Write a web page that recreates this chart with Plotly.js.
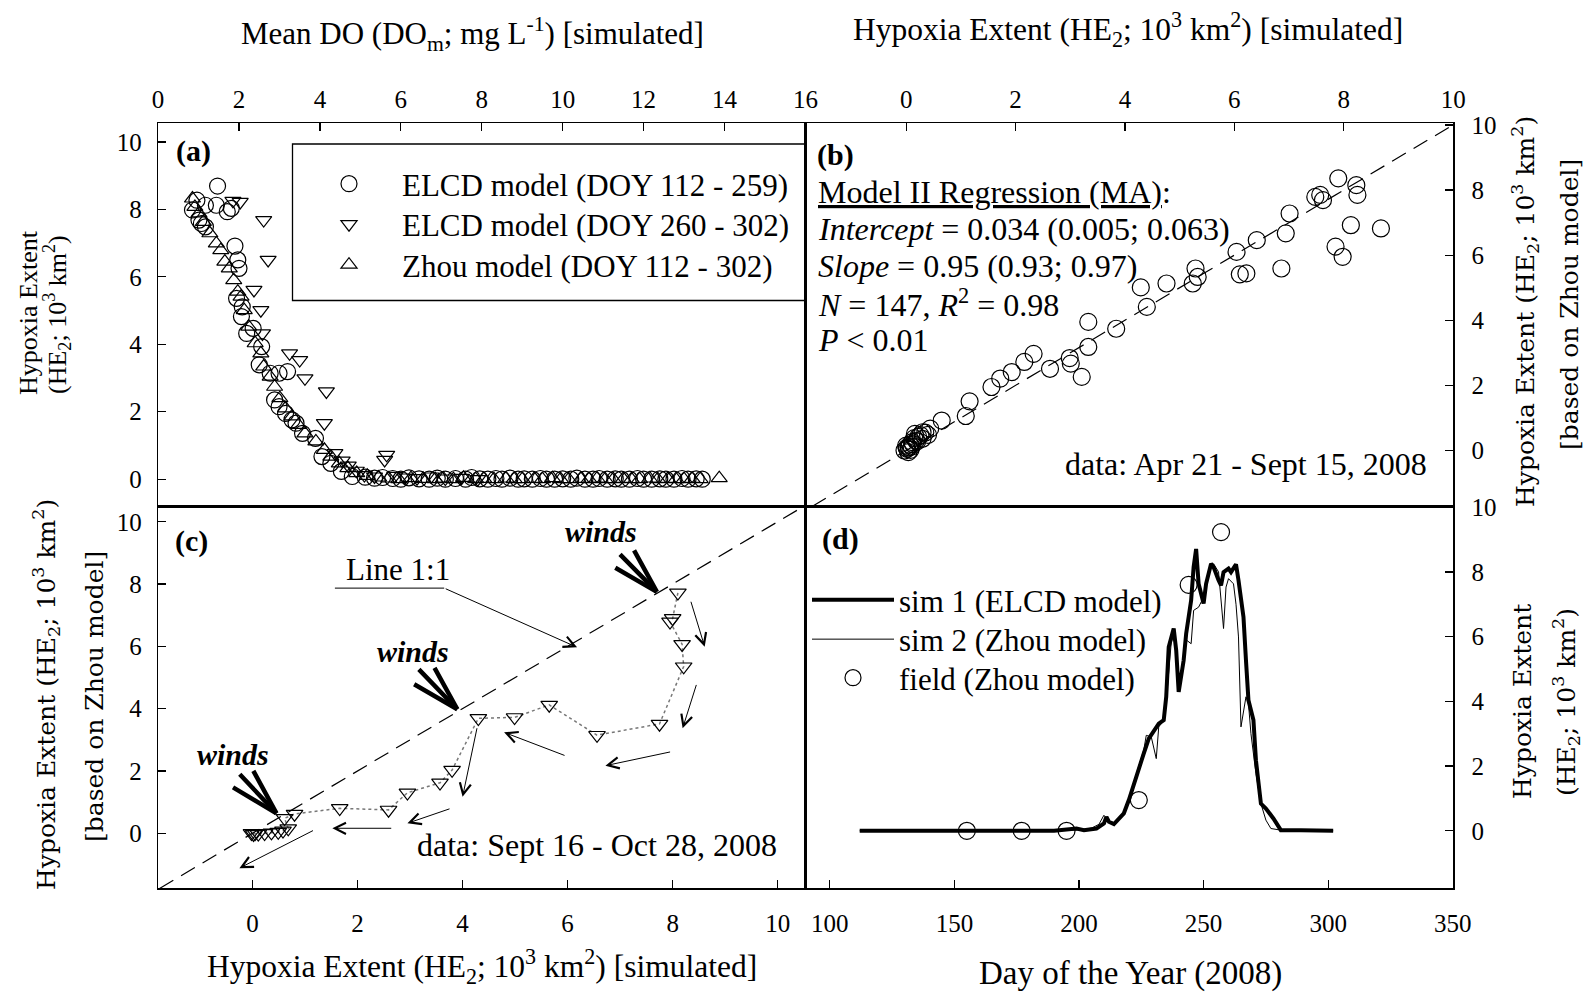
<!DOCTYPE html>
<html><head><meta charset="utf-8">
<script src="https://cdn.plot.ly/plotly-3.0.1.min.js"></script>
<style>html,body{margin:0;padding:0;background:#fff}#chart{width:1591px;height:993px}</style>
</head><body><div id="chart"></div>
<script>
// ---------------- Panel (a): HE vs mean DO ----------------
const elcdEarlyDO = [1.47,0.85,0.96,1.17,1.44,1.71,1.81,1.01,1.07,1.17,1.90,1.97,2.00,1.94,2.08,2.06,2.19,2.35,2.56,2.50,2.77,2.99,3.20,2.88,2.99,3.15,3.31,3.41,3.57,3.89,4.05,4.27,4.53,4.80,5.12,
  5.35,5.55,5.80,6.00,6.20,6.45,6.70,6.90,7.10,7.35,7.60,7.75,7.95,8.15,8.35,8.50,8.70,8.90,9.05,9.25,9.45,9.60,9.80,10.00,10.20,10.35,10.55,10.75,10.90,11.10,11.30,11.45,11.65,11.85,12.00,12.20,12.40,12.55,12.75,12.95,13.10,13.30,13.45];
const elcdEarlyHE = [8.69,7.98,8.27,8.12,8.12,7.93,8.03,7.68,7.58,7.48,6.91,6.50,6.25,5.36,5.11,4.82,4.32,4.47,3.93,3.39,3.14,3.14,3.19,2.35,2.15,1.95,1.76,1.66,1.36,1.21,0.67,0.47,0.23,0.08,0.06,
  0.03,0.05,0.02,0.00,0.04,0.01,0.00,0.03,0.00,0.02,0.00,0.05,0.01,0.00,0.02,0.00,0.03,0.00,0.01,0.00,0.02,0.00,0.00,0.01,0.00,0.03,0.00,0.00,0.02,0.00,0.01,0.00,0.00,0.02,0.00,0.00,0.01,0.00,0.00,0.02,0.00,0.01,0.00];
const elcdLateDO = [1.85,2.03,2.61,2.72,2.37,2.54,2.58,3.25,3.50,3.63,4.16,4.11,4.37,4.55,4.70,4.90,5.10,5.60,5.65,5.35,5.85,6.10,6.40,6.75,7.10,7.50,7.90];
const elcdLateHE = [8.25,8.22,7.68,6.50,5.61,5.01,4.32,3.73,3.53,2.99,2.60,1.66,0.77,0.55,0.40,0.25,0.12,0.57,0.72,0.08,0.10,0.05,0.03,0.08,0.02,0.04,0.00];
const zhouDO = [0.85,0.91,1.01,1.12,1.28,1.44,1.55,1.65,1.76,1.87,1.97,2.05,2.13,2.24,2.40,2.54,2.61,2.77,2.88,3.01,3.15,3.31,3.47,3.63,3.90,4.11,4.27,4.48,4.69,4.91,5.17,
  5.45,5.70,5.95,6.25,6.55,6.85,7.05,7.30,7.55,7.85,8.05,8.30,8.60,8.80,9.00,9.30,9.50,9.75,9.95,10.15,10.45,10.65,10.85,11.05,11.25,11.50,11.70,11.90,12.15,12.35,12.60,12.80,13.00,13.20,13.40,13.87];
const zhouHE = [8.32,8.07,7.88,7.63,7.29,6.99,6.79,6.45,6.25,5.90,5.56,5.41,5.01,4.52,4.03,3.73,3.34,3.04,2.74,2.40,2.10,1.86,1.61,1.36,1.12,0.87,0.67,0.47,0.33,0.18,0.10,
  0.05,0.02,0.00,0.03,0.01,0.00,0.02,0.00,0.04,0.00,0.01,0.00,0.02,0.00,0.00,0.01,0.00,0.03,0.00,0.00,0.01,0.00,0.02,0.00,0.00,0.01,0.00,0.00,0.02,0.00,0.01,0.00,0.00,0.01,0.00,0.03];

// ---------------- Panel (b): Zhou vs ELCD HE (Apr 21 - Sep 15) ----------------
const heSimB = [7.90,8.23,8.25,7.57,7.48,7.62,8.13,8.68,7.01,6.94,7.85,7.98,6.41,6.04,6.10,6.22,6.86,5.29,5.33,5.24,4.29,4.76,4.40,3.33,3.84,3.33,2.99,3.01,3.21,2.63,2.33,2.16,1.93,1.72,1.56,1.16,1.09,0.65,0.44,0.30,0.16,0.30,0.11,0.00,0.02,-0.03,0.05,0.08,0.12,0.18,0.22,0.04,0.01,0.07,0.10,0.15,0.20,0.26,0.35,0.40];
const heZhouB = [8.36,8.15,7.85,7.85,7.79,7.69,6.92,6.82,7.28,6.67,6.26,5.95,6.46,6.10,5.41,5.44,5.59,5.59,5.33,5.13,5.01,5.13,4.41,3.95,3.74,3.18,2.84,2.67,2.26,2.51,2.97,2.72,2.41,2.21,1.95,1.51,1.06,0.92,0.67,0.56,0.51,0.36,0.26,0.15,0.05,0.00,0.10,0.02,0.20,0.30,0.42,-0.05,0.08,0.18,0.12,0.38,0.28,0.47,0.55,0.48];

// ---------------- Panel (c): Zhou vs ELCD HE (Sep 16 - Oct 28) ----------------
const heSimC = [8.10,8.00,7.95,8.18,8.21,7.75,6.56,5.65,4.99,4.30,3.80,3.57,2.95,2.59,1.66,0.80,0.61,0.68,0.58,0.49,0.36,0.23,0.11,-0.02,0.02,0.05];
const heZhouC = [7.72,6.90,6.79,6.07,5.35,3.51,3.15,4.12,3.72,3.69,2.03,1.62,1.30,0.75,0.80,0.62,0.48,0.15,0.08,0.04,0.02,0.00,-0.02,0.00,-0.03,0.00];

// ---------------- Panel (d): time series ----------------
const doySim1 = [112,130,150,170,190,199,202,207,210,211,212,214,216,218,220,222,224,226,228,230,232,234,235,236,238,239,240,242,243,245,246,247,248,250,251,253,254,256,257,258,260,261,263,264,266,267,268,270,271,273,275,278,281,289,295,302];
const heSim1 = [0,0,0,0,0,0.07,0.02,0.07,0.23,0.43,0.28,0.21,0.38,0.54,0.95,1.46,1.98,2.39,2.85,3.11,3.31,3.42,4.14,5.68,6.25,5.58,4.29,5.27,6.09,7.12,8.15,8.71,7.63,7.02,7.63,8.25,8.15,7.74,7.58,7.99,8.10,7.99,8.23,7.74,6.61,5.27,4.03,3.42,2.18,0.84,0.69,0.38,0.02,0.02,0,0];
const doySim2 = [112,130,150,170,190,200,205,208,210,212,214,216,218,220,222,224,226,227,229,231,232,234,235,237,238,239,240,242,243,245,246,248,250,252,254,256,258,259,260,262,263,264,265,267,268,269,271,273,275,277,281,290,302];
const heSim2 = [0,0,0,0,0,0.03,0.08,0.2,0.48,0.3,0.25,0.35,0.5,0.9,1.5,2.0,2.5,2.95,2.9,2.23,3.21,3.4,4.0,5.8,6.1,5.5,4.6,5.2,5.9,5.78,6.81,6.91,7.22,8.05,8.25,8.0,6.25,7.53,7.79,7.63,7.0,5.99,3.21,4.14,3.93,3.0,1.77,0.84,0.33,0.07,0.02,0,0];
const doyField = [155,177,195,224,244,257];
const heField = [0,0,0,0.95,7.6,9.23];

// ---------------- Labels ----------------
const legendA = ['ELCD model (DOY 112 - 259)','ELCD model (DOY 260 - 302)','Zhou model (DOY 112 - 302)'];
const legendD = ['sim 1 (ELCD model)','sim 2 (Zhou model)','field (Zhou model)'];
const HE_UNIT = 'HE<sub>2</sub>; 10<sup>3</sup> km<sup>2</sup>';

const W = 1591, H = 993;
const SERIF = '"Liberation Serif", "Times New Roman", serif';
const WIDE = '"DejaVu Serif", serif';
const px = X => X / W, py = Y => 1 - Y / H;

const xL = [px(158), px(805.5)], xR = [px(805.5), px(1453.3)];
const yT = [py(506.5), py(123.3)], yB = [py(888.4), py(506.5)];

const mk = (sym, size) => ({symbol: sym, size: size, color: '#000', line: {width: 1.2, color: '#000'}});

const traces = [
  {x: elcdEarlyDO, y: elcdEarlyHE, xaxis:'x', yaxis:'y', type:'scatter', mode:'markers', name: legendA[0], legend:'legend', marker: mk('circle-open', 16)},
  {x: elcdLateDO, y: elcdLateHE, xaxis:'x', yaxis:'y', type:'scatter', mode:'markers', name: legendA[1], legend:'legend3', marker: mk('triangle-down-open', 14)},
  {x: zhouDO, y: zhouHE, xaxis:'x', yaxis:'y', type:'scatter', mode:'markers', name: legendA[2], legend:'legend4', marker: mk('triangle-up-open', 14)},
  {x: heSimB, y: heZhouB, xaxis:'x2', yaxis:'y2', type:'scatter', mode:'markers', showlegend:false, marker: mk('circle-open', 17)},
  {x: heSimC, y: heZhouC, xaxis:'x3', yaxis:'y3', type:'scatter', mode:'lines+markers', showlegend:false,
   line: {color:'#777', width:1.5, dash:'dot'}, marker: mk('triangle-down-open', 14.5)},
  {x: doySim1, y: heSim1, xaxis:'x4', yaxis:'y4', type:'scatter', mode:'lines', name: legendD[0], legend:'legend2', line:{color:'#000', width:4}},
  {x: doySim2, y: heSim2, xaxis:'x4', yaxis:'y4', type:'scatter', mode:'lines', name: legendD[1], legend:'legend5', line:{color:'#000', width:1}},
  {x: doyField, y: heField, xaxis:'x4', yaxis:'y4', type:'scatter', mode:'markers', name: legendD[2], legend:'legend6', marker: mk('circle-open', 17)}
];

const axBase = {showline:true, mirror:true, linecolor:'#000', linewidth:1.3, ticks:'inside', ticklen:8, tickwidth:1.3, tickcolor:'#000',
  showgrid:false, zeroline:false, fixedrange:true, tickfont:{family:SERIF, size:25, color:'#000'}};
const ax = o => Object.assign({}, axBase, o);

const ann = [];
function txt(X, Y, text, o) {
  const a = {xref:'paper', yref:'paper', x:px(X), y:py(Y), text:text, showarrow:false, xanchor:'center', yanchor:'middle',
    font:{family:SERIF, size:32, color:'#000'}};
  if (o) { if (o.font) { a.font = Object.assign({}, a.font, o.font); } Object.keys(o).forEach(k => { if (k !== 'font') a[k] = o[k]; }); }
  ann.push(a);
}
function arrow(x0, y0, x1, y1, o) {
  ann.push(Object.assign({xref:'x3', yref:'y3', axref:'x3', ayref:'y3', x:x1, y:y1, ax:x0, ay:y0, text:'', showarrow:true,
    arrowhead:5, arrowsize:2.2, arrowwidth:1, arrowcolor:'#000', standoff:0, startstandoff:0}, o || {}));
}

// axis titles
txt(472, 34, 'Mean DO (DO<sub>m</sub>; mg L<sup>-1</sup>) [simulated]', {font:{size:31}});
txt(1128, 29, 'Hypoxia Extent (' + HE_UNIT + ') [simulated]', {font:{size:31.5}});
txt(482, 966, 'Hypoxia Extent (' + HE_UNIT + ') [simulated]', {font:{size:31.5}});
txt(1130, 973, 'Day of the Year (2008)', {font:{size:33}});
txt(28, 313, 'Hypoxia Extent', {textangle:-90, font:{size:26}});
txt(57, 315, '(' + HE_UNIT + ')', {textangle:-90, font:{size:26}});
txt(46, 695, 'Hypoxia Extent (' + HE_UNIT + ')', {textangle:-90, font:{family:WIDE, size:25}});
txt(94, 697, '[based on Zhou model]', {textangle:-90, font:{family:WIDE, size:25}});
txt(1525, 312, 'Hypoxia Extent (' + HE_UNIT + ')', {textangle:-90, font:{family:WIDE, size:25}});
txt(1569, 305, '[based on Zhou model]', {textangle:-90, font:{family:WIDE, size:25}});
txt(1522, 702, 'Hypoxia Extent', {textangle:-90, font:{family:WIDE, size:25}});
txt(1566, 702, '(' + HE_UNIT + ')', {textangle:-90, font:{family:WIDE, size:25}});

// panel letters
txt(174, 151, '<b>(a)</b>', {xanchor:'left', font:{size:30}});
txt(815, 155, '<b>(b)</b>', {xanchor:'left', font:{size:30}});
txt(173, 541, '<b>(c)</b>', {xanchor:'left', font:{size:30}});
txt(820, 539, '<b>(d)</b>', {xanchor:'left', font:{size:30}});

// panel (b) statistics
txt(816, 192, '<u>Model II Regression (MA)</u>:', {xanchor:'left'});
txt(816, 229, '<i>Intercept</i> = 0.034 (0.005; 0.063)', {xanchor:'left'});
txt(816, 266, '<i>Slope</i> = 0.95 (0.93; 0.97)', {xanchor:'left'});
txt(816, 303, '<i>N</i> = 147, <i>R</i><sup>2</sup> = 0.98', {xanchor:'left'});
txt(816, 340, '<i>P</i> &lt; 0.01', {xanchor:'left'});
txt(1429, 464, 'data: Apr 21 - Sept 15, 2008', {xanchor:'right'});

// panel (c) notes
txt(779, 845, 'data: Sept 16 - Oct 28, 2008', {xanchor:'right'});
txt(398, 569, 'Line 1:1', {font:{size:31}});
txt(601, 531, '<b><i>winds</i></b>', {font:{size:30}});
txt(413, 651, '<b><i>winds</i></b>', {font:{size:30}});
txt(233, 754, '<b><i>winds</i></b>', {font:{size:30}});

// Line 1:1 pointer
arrow(1.54, 7.87, 3.65, 7.87, {arrowhead:0});
arrow(3.65, 7.87, 6.18, 5.97);
// trajectory arrows
arrow(8.34, 7.48, 8.61, 5.99);
arrow(8.46, 4.81, 8.19, 3.37);
arrow(7.98, 2.62, 6.72, 2.17);
arrow(5.97, 2.48, 4.79, 3.24);
arrow(4.28, 3.42, 4.00, 1.17);
arrow(3.78, 0.80, 2.95, 0.32);
arrow(2.67, 0.16, 1.52, 0.16);
arrow(1.18, 0.11, -0.25, -1.12);
// wind bundles
const windTips = [[7.70, 7.75], [3.90, 3.98], [0.456, 0.64]];
const windTails = [
  [[6.88, 8.55], [6.97, 9.00], [7.25, 9.13]],
  [[3.05, 4.81], [3.14, 5.31], [3.45, 5.36]],
  [[-0.40, 1.50], [-0.27, 1.94], [0.00, 2.05]]
];
windTips.forEach((t, i) => windTails[i].forEach(s => arrow(s[0], s[1], t[0], t[1], {arrowhead:0, arrowwidth:4.5})));

const shapes = [
  {type:'rect', xref:'paper', yref:'paper', x0:px(292.5), x1:px(805.5), y0:py(300.5), y1:py(144), line:{color:'#000', width:1.3}, fillcolor:'rgba(0,0,0,0)'},
  {type:'line', xref:'x2', yref:'y2', x0:-1.72, y0:-1.72, x1:10, y1:10, line:{color:'#000', width:1.2, dash:'16px,9px'}},
  {type:'line', xref:'x3', yref:'y3', x0:-1.77, y0:-1.77, x1:10.49, y1:10.49, line:{color:'#000', width:1.2, dash:'16px,9px'}}
];

const legFont = {family:SERIF, size:31, color:'#000'};
const leg = (X, Y, w) => ({x: px(X), y: py(Y), xanchor:'left', yanchor:'middle', bgcolor:'rgba(0,0,0,0)', borderwidth:0,
  font: legFont, itemwidth: w, itemclick:false, itemdoubleclick:false});

const layout = {
  width: W, height: H, margin: {l:0, r:0, t:0, b:0}, paper_bgcolor:'#fff', plot_bgcolor:'rgba(0,0,0,0)',
  font: {family: SERIF, size: 25, color:'#000'},
  xaxis: ax({domain:xL, anchor:'y', side:'top', range:[-0.002, 16.002], dtick:2, tick0:0, ticklabelstandoff:4}),
  yaxis: ax({domain:yT, anchor:'x', range:[-0.81, 10.55], dtick:2, tick0:0, ticklabelstandoff:10}),
  xaxis2: ax({domain:xR, anchor:'y2', side:'top', range:[-1.84, 10.003], dtick:2, tick0:0, ticklabelstandoff:4}),
  yaxis2: ax({domain:yT, anchor:'x2', side:'right', range:[-1.72, 10.05], dtick:2, tick0:0, ticklabelstandoff:12}),
  xaxis3: ax({domain:xL, anchor:'y3', range:[-1.80, 10.53], dtick:2, tick0:0, ticklabelstandoff:12}),
  yaxis3: ax({domain:yB, anchor:'x3', range:[-1.77, 10.49], dtick:2, tick0:0, ticklabelstandoff:10}),
  xaxis4: ax({domain:xR, anchor:'y4', range:[90.25, 350.2], dtick:50, tick0:0, ticklabelstandoff:12}),
  yaxis4: ax({domain:yB, anchor:'x4', side:'right', range:[-1.78, 10.02], dtick:2, tick0:0, ticklabelstandoff:12}),
  legend: leg(296, 184, 96),
  legend3: leg(296, 224.5, 96),
  legend4: leg(296, 265, 96),
  legend2: leg(807, 600, 82),
  legend5: leg(807, 639.5, 82),
  legend6: leg(807, 678, 82),
  annotations: ann,
  shapes: shapes
};

Plotly.newPlot('chart', traces, layout, {displayModeBar:false, staticPlot:true});
</script>
</body></html>
